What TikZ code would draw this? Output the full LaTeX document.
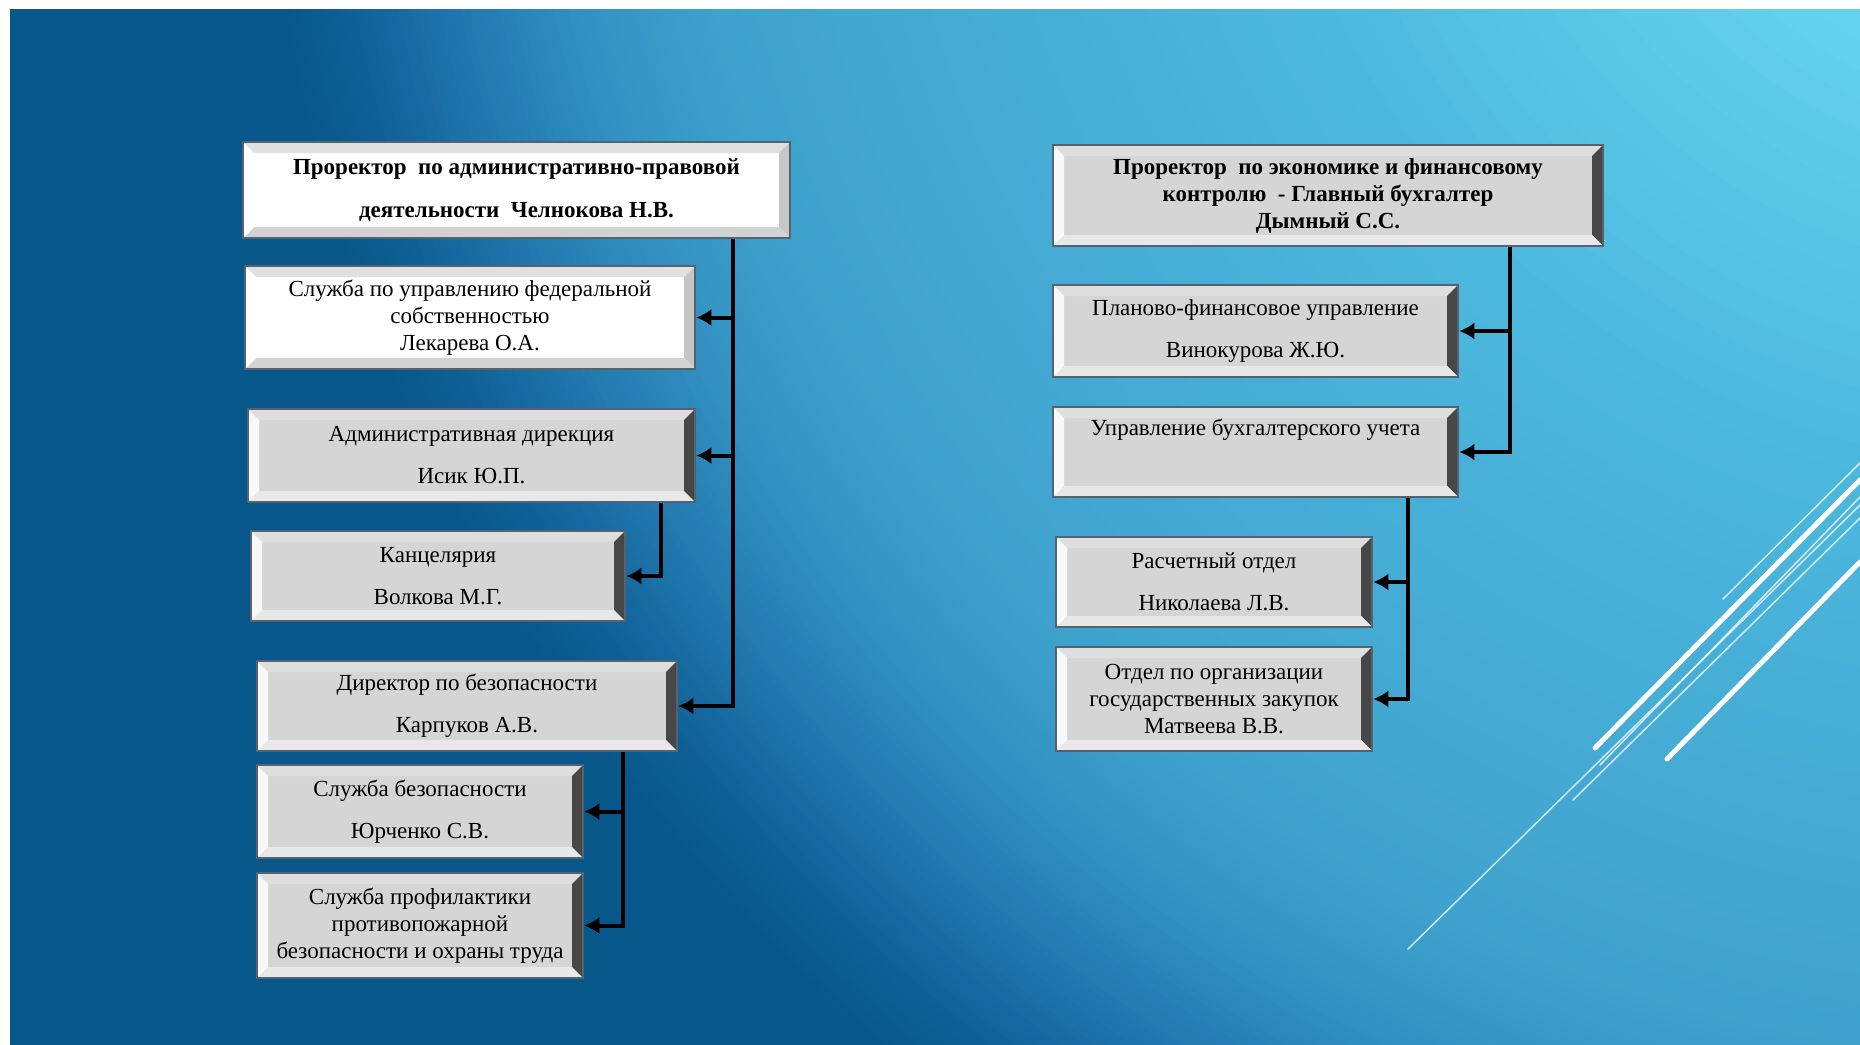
\documentclass[tikz,border=0pt]{standalone}
\usepackage{fontspec}
\setmainfont{Liberation Serif}
\usetikzlibrary{arrows.meta}

% background ramp (radial, centred beyond the upper right corner)
\definecolor{g0}{HTML}{6AD6F0}
\definecolor{g1}{HTML}{66D3EE}
\definecolor{g2}{HTML}{4DB8DE}
\definecolor{g3}{HTML}{45ABD4}
\definecolor{g4}{HTML}{3EA2CD}
\definecolor{g5}{HTML}{3392C3}
\definecolor{g6}{HTML}{2279AF}
\definecolor{g7}{HTML}{0F6097}
\definecolor{g8}{HTML}{08578A}
% box colours
\definecolor{boxedge}{HTML}{56636E}
\definecolor{boxfill}{HTML}{D5D5D5}
\definecolor{bevtop}{HTML}{DEDEDE}
\definecolor{bevright}{HTML}{474747}
\definecolor{bevbottom}{HTML}{E8E8E8}
\definecolor{bevleft}{HTML}{F8F8F8}
\definecolor{wtop}{HTML}{E0E0E0}
\definecolor{wright}{HTML}{C6C6C6}
\definecolor{wbottom}{HTML}{D2D2D2}

\newcommand\bevw{11pt}
% four bevel strips: top, right, bottom, left
\newcommand\bevels[4]{%
  \fill[#1] (path picture bounding box.north west) -- (path picture bounding box.north east)
     -- ([shift={(-\bevw,-\bevw)}]path picture bounding box.north east)
     -- ([shift={(\bevw,-\bevw)}]path picture bounding box.north west) -- cycle;
  \fill[#2] (path picture bounding box.north east) -- (path picture bounding box.south east)
     -- ([shift={(-\bevw,\bevw)}]path picture bounding box.south east)
     -- ([shift={(-\bevw,-\bevw)}]path picture bounding box.north east) -- cycle;
  \fill[#3] (path picture bounding box.south east) -- (path picture bounding box.south west)
     -- ([shift={(\bevw,\bevw)}]path picture bounding box.south west)
     -- ([shift={(-\bevw,\bevw)}]path picture bounding box.south east) -- cycle;
  \fill[#4] (path picture bounding box.south west) -- (path picture bounding box.north west)
     -- ([shift={(\bevw,-\bevw)}]path picture bounding box.north west)
     -- ([shift={(\bevw,\bevw)}]path picture bounding box.south west) -- cycle;
}

\tikzset{
  box/.style={draw=boxedge, line width=2.5pt, inner sep=0pt, align=center,
    text=black, font=\fontsize{23}{27}\selectfont},
  graybox/.style={box, fill=boxfill,
    path picture={\bevels{bevtop}{bevright}{bevbottom}{bevleft}}},
  whitebox/.style={box, fill=white,
    path picture={\bevels{wtop}{wright}{wbottom}{white}}},
  link/.style={line width=4pt, black},
  arrowin/.style={link, -{Latex[length=15pt,width=17pt]}},
  streak/.style={white, line cap=round},
}

\begin{document}
\begin{tikzpicture}[x=1pt, y=-1pt]
\useasboundingbox (0,0) rectangle (1860,1044.6);
\fill[white] (0,0) rectangle (1860,1044.6);

% background
\begin{scope}
  \clip (10,9) rectangle (1875,1060);
  \fill[g8] (10,9) rectangle (1875,1060);
  \foreach \ra/\rb/\ca/\cb in {1800/1730/g8/g7, 1730/1620/g7/g6, 1620/1500/g6/g5,
      1500/1375/g5/g4, 1375/1150/g4/g3, 1150/811/g3/g2, 811/376/g2/g1, 376/0/g1/g0} {
    \foreach \k in {0,...,15} {
      \pgfmathsetmacro\rr{\ra-(\ra-\rb)*\k/16}
      \pgfmathsetmacro\pp{100*\k/16}
      \fill[\cb!\pp!\ca] (2048,-317) circle[radius=\rr pt];
    }
  }
  % light streaks
  \draw[streak, line width=5pt] (1595,748) -- (1860,480);
  \draw[streak, line width=5pt] (1667,759) -- (1860,562);
  \draw[streak, line width=1.5pt, opacity=.75] (1408,949) -- (1860,505);
  \draw[streak, line width=1.5pt, opacity=.75] (1723,599) -- (1860,463);
  \draw[streak, line width=1.5pt, opacity=.75] (1573,800) -- (1860,518);
  \draw[streak, line width=1.5pt, opacity=.75] (1600,765) -- (1860,497);
\end{scope}

% left branch
\node[whitebox, font=\fontsize{23}{27}\selectfont\bfseries, minimum width=547pt, minimum height=96pt]
  (l0) at (516.5,190) {Проректор\ \ по административно-правовой\\[16pt]деятельности\ \ Челнокова Н.В.};
\node[whitebox, minimum width=450pt, minimum height=103pt]
  (l1) at (470,317.5) {Служба по управлению федеральной\\собственностью\\Лекарева О.А.};
\node[graybox, minimum width=447pt, minimum height=93pt]
  (l2) at (471.5,455.5) {Административная дирекция\\[15pt]Исик Ю.П.};
\node[graybox, minimum width=374pt, minimum height=90pt]
  (l3) at (438,576) {Канцелярия\\[15pt]Волкова М.Г.};
\node[graybox, minimum width=420pt, minimum height=90pt]
  (l4) at (467,706) {Директор по безопасности\\[15pt]Карпуков А.В.};
\node[graybox, minimum width=326pt, minimum height=93pt]
  (l5) at (420,811.5) {Служба безопасности\\[15pt]Юрченко С.В.};
\node[graybox, minimum width=326pt, minimum height=105pt]
  (l6) at (420,925.5) {Служба профилактики\\противопожарной\\безопасности и охраны труда};

% right branch
\node[graybox, font=\fontsize{23}{27}\selectfont\bfseries, minimum width=550pt, minimum height=101pt]
  (r0) at (1328,195.5) {Проректор\ \ по экономике и финансовому\\контролю\ \ - Главный бухгалтер\\Дымный С.С.};
\node[graybox, minimum width=405pt, minimum height=92pt]
  (r1) at (1255.5,331) {Планово-финансовое управление\\[15pt]Винокурова Ж.Ю.};
\node[graybox, minimum width=405pt, minimum height=90pt]
  (r2) at (1255.5,452) {Управление бухгалтерского учета\\[15pt]\strut};
\node[graybox, minimum width=316pt, minimum height=90pt]
  (r3) at (1214,582) {Расчетный отдел\\[15pt]Николаева Л.В.};
\node[graybox, minimum width=316pt, minimum height=104pt]
  (r4) at (1214,699) {Отдел по организации\\государственных закупок\\Матвеева В.В.};

% trunk positions
\coordinate (tl)  at (733,0);
\coordinate (tl3) at (661,0);
\coordinate (tl5) at (623,0);
\coordinate (tr)  at (1510,0);
\coordinate (tr3) at (1408,0);

% connectors
\draw[arrowin] (l0.south -| tl) |- (l4.east);
\draw[arrowin] (tl |- l1.east) -- (l1.east);
\draw[arrowin] (tl |- l2.east) -- (l2.east);
\draw[arrowin] (l2.south -| tl3) |- (l3.east);
\draw[arrowin] (l4.south -| tl5) |- (l6.east);
\draw[arrowin] (tl5 |- l5.east) -- (l5.east);

\draw[arrowin] (r0.south -| tr) |- (r2.east);
\draw[arrowin] (tr |- r1.east) -- (r1.east);
\draw[arrowin] (r2.south -| tr3) |- (r4.east);
\draw[arrowin] (tr3 |- r3.east) -- (r3.east);
\end{tikzpicture}
\end{document}
